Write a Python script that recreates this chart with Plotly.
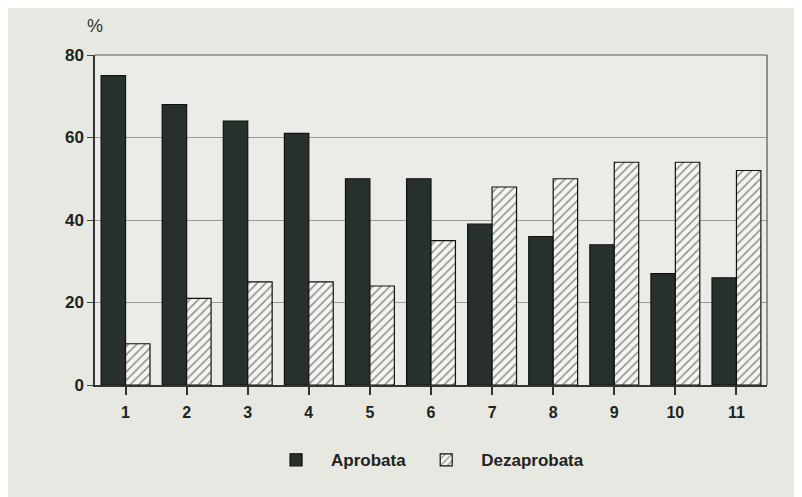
import plotly.graph_objects as go

categories = ["1", "2", "3", "4", "5", "6", "7", "8", "9", "10", "11"]
aprobata = [75, 68, 64, 61, 50, 50, 39, 36, 34, 27, 26]
dezaprobata = [10, 21, 25, 25, 24, 35, 48, 50, 54, 54, 52]
y_ticks = [0, 20, 40, 60, 80]

FONT = "Liberation Sans, Arial, sans-serif"
INK = "#1f2420"

fig = go.Figure()
fig.add_trace(go.Bar(
    x=categories, y=aprobata, name="<b>Aprobata</b>",
    marker=dict(color="#27302b", line=dict(color="#111", width=1.2)),
))
fig.add_trace(go.Bar(
    x=categories, y=dezaprobata, name="<b>Dezaprobata</b>",
    marker=dict(color="#f4f4f0", line=dict(color="#111", width=1.2),
                pattern=dict(shape="/", fgcolor="#222", bgcolor="#f4f4f0",
                             size=6, solidity=0.25)),
))

fig.update_layout(
    width=802, height=497,
    margin=dict(l=87, r=43, t=47, b=120),
    paper_bgcolor="#e8e8e3",
    plot_bgcolor="#ebebe7",
    barmode="group",
    bargap=0.2,
    bargroupgap=0.0,
    font=dict(family=FONT, color=INK, size=15),
    showlegend=True,
    legend=dict(orientation="h", x=0.52, xanchor="center", xref="container",
                y=0.09, yanchor="middle", yref="container",
                font=dict(family=FONT, size=17, color=INK),
                itemwidth=60, bgcolor="rgba(0,0,0,0)"),
    xaxis=dict(
        type="category", range=[-0.5, 10.5],
        showgrid=False, showline=True, linecolor="#333", linewidth=1.5,
        ticks="outside", ticklen=8, tickcolor="#333", tickwidth=1.5,
        tickfont=dict(family=FONT, size=16, color=INK),
        ticklabelstandoff=4,
    ),
    yaxis=dict(
        range=[0, 80], tickvals=y_ticks,
        ticktext=[f"<b>{v}</b>" for v in y_ticks],
        showgrid=True, gridcolor="#9a9a96", gridwidth=1,
        showline=True, linecolor="#333", linewidth=1.5,
        ticks="outside", ticklen=6, tickcolor="#444",
        tickfont=dict(family=FONT, size=17, color=INK),
        zeroline=False,
    ),
)
fig.update_xaxes(ticktext=[f"<b>{c}</b>" for c in categories], tickvals=categories)

# top and right frame lines (back wall)
fig.add_shape(type="line", xref="paper", yref="paper", x0=0, x1=1, y0=1, y1=1,
              line=dict(color="#555", width=1.2))
fig.add_shape(type="line", xref="paper", yref="paper", x0=1, x1=1, y0=0, y1=1,
              line=dict(color="#555", width=1.2))

fig.add_annotation(text="%", xref="paper", yref="paper", x=0.0, y=1.05,
                   xanchor="center", yanchor="bottom", showarrow=False,
                   font=dict(family=FONT, size=18, color="#333"))

fig.write_html("out.html")
